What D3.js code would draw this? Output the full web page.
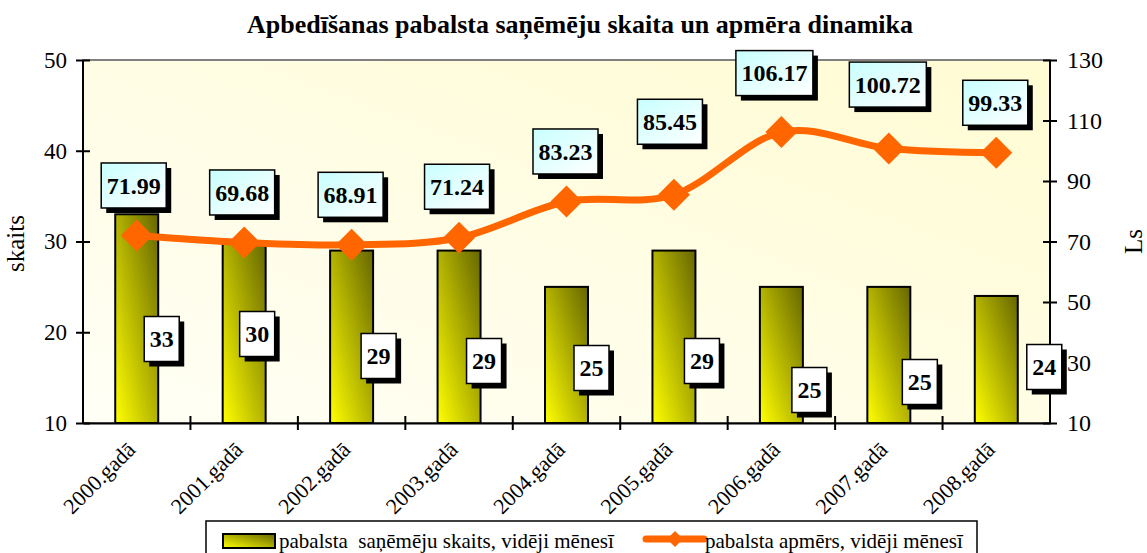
<!DOCTYPE html>
<html>
<head>
<meta charset="utf-8">
<script src="https://cdn.jsdelivr.net/npm/d3@7"></script>
<style>
  body { margin: 0; background: #fff; }
  text { font-family: "Liberation Serif", "Times New Roman", serif; }
</style>
</head>
<body>
<svg id="chart" width="1147" height="553"></svg>
<script>
const categories = ['2000.gadā', '2001.gadā', '2002.gadā', '2003.gadā', '2004.gadā',
                    '2005.gadā', '2006.gadā', '2007.gadā', '2008.gadā'];
const recipients = [33, 30, 29, 29, 25, 29, 25, 25, 24];
const amounts = [71.99, 69.68, 68.91, 71.24, 83.23, 85.45, 106.17, 100.72, 99.33];
const leftTicks = [10, 20, 30, 40, 50];
const rightTicks = [10, 30, 50, 70, 90, 110, 130];

const titleText = 'Apbedīšanas pabalsta saņēmēju skaita un apmēra dinamika';
const barSeriesName = 'pabalsta  saņēmēju skaits, vidēji mēnesī';
const lineSeriesName = 'pabalsta apmērs, vidēji mēnesī';

// labels were dragged by hand in the original, so keep their nudges here (px)
const lineLabelNudge = [[-3, -50], [-2, -50], [-1, -50], [-2, -51], [-1, -50], [-4, -73], [-7, -59], [-1, -64], [-1, -50]];
const barLabelNudge = [[25, -84], [13, -89], [27, -67], [25, -62], [25, -55], [28, -62], [28, -33], [31, -41], [48, -56]];

const serif = '"Liberation Serif", "Times New Roman", serif';
const svg = d3.select('#chart');
const margin = {left: 83, right: 97, top: 60, bottom: 130};
const width = 1147 - margin.left - margin.right;
const height = 553 - margin.top - margin.bottom;

const defs = svg.append('defs');
const plotGrad = defs.append('linearGradient').attr('id', 'plotGrad')
    .attr('x1', 0).attr('y1', 1).attr('x2', 1).attr('y2', 0);
plotGrad.append('stop').attr('offset', '0%').attr('stop-color', '#fffff6');
plotGrad.append('stop').attr('offset', '100%').attr('stop-color', '#fffbd2');

const barGrad = defs.append('linearGradient').attr('id', 'barGrad')
    .attr('x1', 0).attr('y1', 1).attr('x2', 1).attr('y2', 0);
barGrad.append('stop').attr('offset', '0%').attr('stop-color', '#ffff00');
barGrad.append('stop').attr('offset', '100%').attr('stop-color', '#666600');

const boxGrad = defs.append('linearGradient').attr('id', 'boxGrad')
    .attr('x1', 0).attr('y1', 0).attr('x2', 1).attr('y2', 1);
boxGrad.append('stop').attr('offset', '0%').attr('stop-color', '#c8ffff');
boxGrad.append('stop').attr('offset', '100%').attr('stop-color', '#ffffff');

const x = d3.scaleBand().domain(categories).range([0, width]).paddingInner(0).paddingOuter(0);
const barW = x.bandwidth() / 2.5;
const yL = d3.scaleLinear().domain([10, 50]).range([height, 0]);
const yR = d3.scaleLinear().domain([10, 130]).range([height, 0]);

const g = svg.append('g').attr('transform', `translate(${margin.left},${margin.top})`);

// plot area
g.append('rect').attr('width', width).attr('height', height)
    .attr('fill', 'url(#plotGrad)').attr('stroke', '#808080').attr('stroke-width', 2);

// bars
g.selectAll('.bar').data(recipients).enter().append('rect')
    .attr('class', 'bar')
    .attr('x', (d, i) => x(categories[i]) + (x.bandwidth() - barW) / 2)
    .attr('y', d => yL(d))
    .attr('width', barW)
    .attr('height', d => height - yL(d))
    .attr('fill', 'url(#barGrad)')
    .attr('stroke', '#000').attr('stroke-width', 2);

// axes
const axisL = g.append('g').call(d3.axisLeft(yL).tickValues(leftTicks).tickSize(7));
const axisR = g.append('g').attr('transform', `translate(${width},0)`)
    .call(d3.axisRight(yR).tickValues(rightTicks).tickSize(7));
const axisB = g.append('g').attr('transform', `translate(0,${height})`)
    .call(d3.axisBottom(x).tickValues([]).tickSizeOuter(0));

[axisL, axisR, axisB].forEach(a => {
    a.attr('font-family', null);
    a.select('.domain').attr('stroke', '#000').attr('stroke-width', 2);
    a.selectAll('line').attr('stroke', '#000').attr('stroke-width', 2);
    a.selectAll('text').style('font-size', '23px').attr('fill', '#000').style('font-family', serif);
});
axisL.select('.domain').attr('d', `M0,0V${height}`);
axisR.select('.domain').attr('d', `M0,0V${height}`);
// cross ticks
axisL.selectAll('.tick line').attr('x1', 7).attr('x2', -7);
axisL.selectAll('.tick text').attr('x', -16);
axisR.selectAll('.tick line').attr('x1', -7).attr('x2', 7);
axisR.selectAll('.tick text').attr('x', 17).style('font-size', '24px');

// category ticks (between categories)
const catTicks = d3.range(1, categories.length).map(i => x(categories[i]));
g.selectAll('.cat-tick').data(catTicks).enter().append('line')
    .attr('x1', d => d).attr('x2', d => d)
    .attr('y1', height - 7).attr('y2', height + 7)
    .attr('stroke', '#000').attr('stroke-width', 2);

// category labels
g.selectAll('.cat-label').data(categories).enter().append('text')
    .attr('transform', d => `translate(${x(d) + x.bandwidth() / 2},${height + 28}) rotate(-45)`)
    .attr('text-anchor', 'end')
    .style('font-size', '22px')
    .text(d => d);

// line
const pts = amounts.map((d, i) => [x(categories[i]) + x.bandwidth() / 2, yR(d)]);
const line = d3.line().curve(d3.curveCardinal.tension(0));
g.append('path').attr('d', line(pts))
    .attr('fill', 'none').attr('stroke', '#ff6600').attr('stroke-width', 7);

const diamond = s => `M0,${-s}L${s},0L0,${s}L${-s},0Z`;
g.selectAll('.marker').data(pts).enter().append('path')
    .attr('transform', d => `translate(${d[0]},${d[1]})`)
    .attr('d', diamond(16))
    .attr('fill', '#ff6600');

// boxed labels
function boxLabel(cx, cy, txt, fill) {
    const lg = g.append('g').attr('transform', `translate(${cx},${cy})`);
    const shadow = lg.append('rect');
    const box = lg.append('rect');
    const t = lg.append('text').attr('text-anchor', 'middle').attr('dy', '0.34em')
        .style('font-size', '24px').style('font-weight', 'bold').text(txt);
    const w = t.node().getComputedTextLength() + 11;
    const h = 45;
    shadow.attr('x', -w / 2 + 5).attr('y', -h / 2 + 5).attr('width', w).attr('height', h).attr('fill', '#000');
    box.attr('x', -w / 2).attr('y', -h / 2).attr('width', w).attr('height', h)
        .attr('fill', fill).attr('stroke', '#000').attr('stroke-width', 1.5);
}

recipients.forEach((d, i) => {
    const cx = x(categories[i]) + x.bandwidth() / 2;
    boxLabel(cx + barLabelNudge[i][0], height + barLabelNudge[i][1], d, '#fff');
});
amounts.forEach((d, i) => {
    boxLabel(pts[i][0] + lineLabelNudge[i][0], pts[i][1] + lineLabelNudge[i][1], d.toFixed(2), 'url(#boxGrad)');
});

// title
svg.append('text').attr('x', 580).attr('y', 33).attr('text-anchor', 'middle')
    .style('font-size', '26px').style('font-weight', 'bold').text(titleText);

// axis titles
svg.append('text').attr('transform', `translate(24,${margin.top + height / 2 + 2}) rotate(-90)`)
    .attr('text-anchor', 'middle').style('font-size', '25px').text('skaits');
svg.append('text').attr('transform', `translate(1142,${margin.top + height / 2}) rotate(-90)`)
    .attr('text-anchor', 'middle').style('font-size', '25px').text('Ls');

// legend
const leg = svg.append('g');
leg.append('rect').attr('x', 206).attr('y', 521).attr('width', 771).attr('height', 40)
    .attr('fill', '#fff').attr('stroke', '#000').attr('stroke-width', 1.5);
leg.append('rect').attr('x', 223).attr('y', 534).attr('width', 52).attr('height', 14)
    .attr('fill', 'url(#barGrad)').attr('stroke', '#000').attr('stroke-width', 2);
leg.append('text').attr('x', 279).attr('y', 548).style('font-size', '21px')
    .style('white-space', 'pre').text(barSeriesName);
leg.append('line').attr('x1', 646).attr('x2', 704).attr('y1', 539).attr('y2', 539)
    .attr('stroke', '#ff6600').attr('stroke-width', 7).attr('stroke-linecap', 'round');
leg.append('path').attr('transform', 'translate(675,539)').attr('d', diamond(8)).attr('fill', '#ff6600');
leg.append('text').attr('x', 705).attr('y', 548).style('font-size', '21px').text(lineSeriesName);
</script>
</body>
</html>
